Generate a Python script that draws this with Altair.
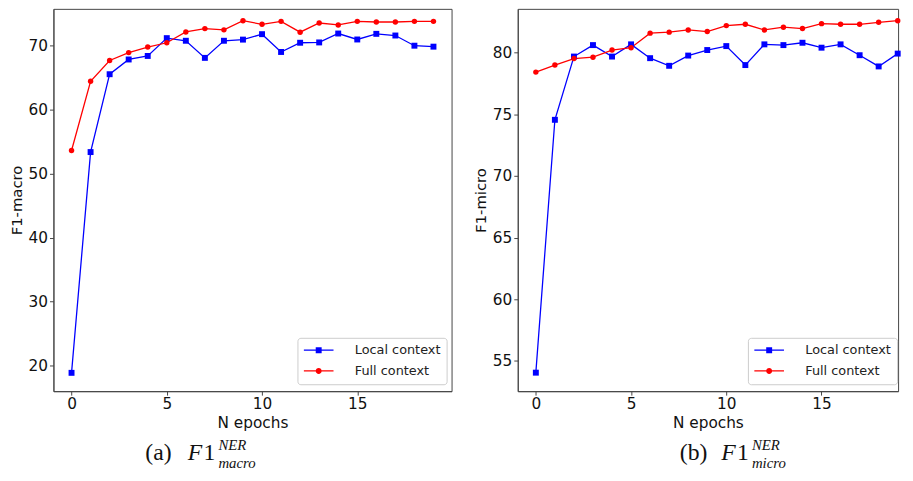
import altair as alt
import pandas as pd

epochs = list(range(20))
series_names = ["Local context", "Full context"]
series_colors = ["#0000ff", "#ff0000"]

macro_local = [18.9, 53.35, 65.5, 67.8, 68.35, 71.13, 70.72, 68.05, 70.72, 70.9,
               71.75, 68.97, 70.41, 70.46, 71.85, 70.92, 71.8, 71.54, 69.95, 69.8]
macro_full = [53.6, 64.4, 67.64, 68.87, 69.74, 70.41, 72.1, 72.62, 72.42, 73.85,
              73.29, 73.75, 72.06, 73.49, 73.19, 73.75, 73.65, 73.65, 73.75, 73.75]
micro_local = [54.04, 74.55, 79.68, 80.61, 79.68, 80.67, 79.55, 78.93, 79.76, 80.21,
               80.53, 78.99, 80.67, 80.61, 80.8, 80.4, 80.67, 79.79, 78.88, 79.92]
micro_full = [78.42, 78.99, 79.52, 79.63, 80.21, 80.4, 81.58, 81.66, 81.84, 81.71,
              82.19, 82.3, 81.84, 82.06, 81.95, 82.35, 82.3, 82.3, 82.46, 82.59]

macro_ticks = [20, 30, 40, 50, 60, 70]
micro_ticks = [55, 60, 65, 70, 75, 80]
x_ticks = [0, 5, 10, 15]

# legend symbols: line segment with a marker in the middle
legend_paths = [
    "M-2.5,-0.11H2.5V0.11H-2.5Z M-0.5,-0.5H0.5V0.5H-0.5Z",
    "M-2.5,-0.11H2.5V0.11H-2.5Z M0.5,0A0.5,0.5,0,1,1,-0.5,0A0.5,0.5,0,1,1,0.5,0Z",
]

H = 387


def caption(parts):
    layers = []
    for txt, xpos, ypos, size, style in parts:
        layers.append(
            alt.Chart(alt.Data(values=[{"k": 1}]))
            .mark_text(align="left", baseline="alphabetic", font="Liberation Serif",
                       fontSize=size, fontStyle=style, color="#111111")
            .encode(x=alt.value(xpos), y=alt.value(ypos), text=alt.value(txt))
        )
    return layers


def panel(local, full, ytitle, ydomain, yticks, xdomain, width, legx, cap_parts):
    df = pd.DataFrame({
        "epoch": epochs * 2,
        "value": local + full,
        "series": [series_names[0]] * len(epochs) + [series_names[1]] * len(epochs),
    })
    xscale = alt.Scale(domain=xdomain, nice=False, zero=False)
    x = alt.X("epoch:Q", scale=xscale, axis=alt.Axis(values=x_ticks, title="N epochs"))
    y = alt.Y("value:Q", scale=alt.Scale(domain=ydomain, nice=False, zero=False),
              axis=alt.Axis(values=yticks, title=ytitle))
    base = alt.Chart(df)
    loc = base.transform_filter(alt.datum.series == series_names[0])
    ful = base.transform_filter(alt.datum.series == series_names[1])
    line_loc = loc.mark_line(strokeWidth=1.3, color=series_colors[0]).encode(x=x, y=y)
    line_ful = ful.mark_line(strokeWidth=1.3, color=series_colors[1]).encode(x=x, y=y)
    squares = loc.mark_point(shape="square", filled=True, size=36, opacity=1,
                             color=series_colors[0]).encode(x=x, y=y)
    circles = ful.mark_circle(size=30, opacity=1, color=series_colors[1]).encode(x=x, y=y)
    leg = alt.Legend(title=None, orient="none", legendX=legx, legendY=333,
                     padding=6, rowPadding=7, symbolSize=144, symbolOffset=9,
                     labelOffset=30, symbolStrokeWidth=0, symbolOpacity=1, labelFontSize=13,
                     labelFont="DejaVu Sans", labelColor="#222222",
                     strokeColor="#cccccc", fillColor="white", cornerRadius=3)
    legend_layer = base.mark_point(filled=True, opacity=0).encode(
        x=x, y=y,
        color=alt.Color("series:N", scale=alt.Scale(domain=series_names, range=series_colors), legend=leg),
        shape=alt.Shape("series:N", scale=alt.Scale(domain=series_names, range=legend_paths), legend=leg),
    )
    return alt.layer(line_loc, line_ful, squares, circles, legend_layer,
                     *caption(cap_parts)).properties(width=width, height=H)


left = panel(macro_local, macro_full, "F1-macro", [16.04, 75.7], macro_ticks, [-0.95, 19.95], 403, 247,
             [("(a)", 93, 457, 24, "normal"), ("F", 136, 457, 24, "italic"), ("1", 152, 457, 24, "normal"),
              ("NER", 167, 447, 15, "italic"), ("macro", 167, 465, 15, "italic")])
right = panel(micro_local, micro_full, "F1-micro", [52.54, 83.55], micro_ticks, [-0.95, 19.02], 385, 233,
              [("(b)", 164, 457, 24, "normal"), ("F", 206, 457, 24, "italic"), ("1", 222, 457, 24, "normal"),
               ("NER", 237, 447, 15, "italic"), ("micro", 237, 465, 15, "italic")])

chart = (
    alt.hconcat(left, right, spacing=20)
    .resolve_scale(x="independent", y="independent", color="independent", shape="independent")
    .resolve_legend(color="independent", shape="independent")
    .configure_view(stroke="#444444", strokeWidth=1)
    .configure_axis(domainColor="#444444", tickColor="#444444", tickSize=4, labelPadding=2,
                    labelFontSize=15.5, titleFontSize=15, labelFont="DejaVu Sans", titleFont="DejaVu Sans",
                    labelColor="#111111", titleColor="#111111", titleFontWeight="normal", grid=False,
                    titlePadding=4)
    .configure_axisX(titleFontSize=15.5, titlePadding=3, labelPadding=2)
    .properties(padding={"left": 0, "top": -3, "right": 0, "bottom": 0}, background="white")
)

chart.save("out.html", embed_options={"renderer": "svg", "actions": False})
